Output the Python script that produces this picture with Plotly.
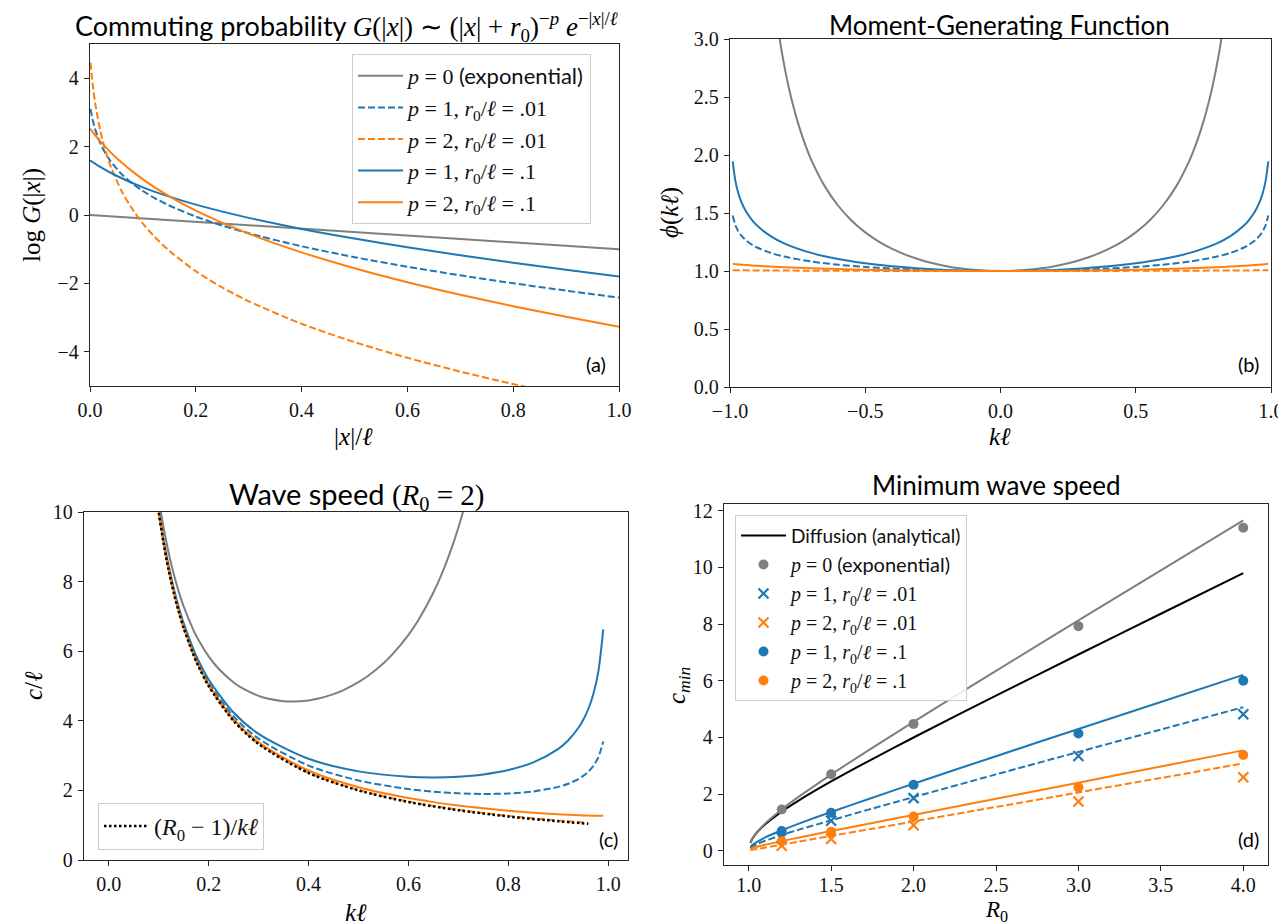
import plotly.graph_objects as go

# ---------------- data ----------------
# panel (a): log G(|x|) vs |x|/l
A_X_EXP = [0.0, 1.0]
A_EXP = [0.0, -1.0]
A_X_R001 = [0.001, 0.005, 0.01, 0.02, 0.03, 0.04, 0.06, 0.08, 0.1, 0.12, 0.15, 0.2, 0.25, 0.3, 0.4, 0.5, 0.6, 0.7, 0.8, 0.9, 1.0]
A_P1_R001 = [3.10, 2.789, 2.496, 2.081, 1.783, 1.55, 1.193, 0.922, 0.701, 0.514, 0.277, -0.045, -0.309, -0.535, -0.914, -1.233, -1.512, -1.764, -1.995, -2.212, -2.416]
A_P2_R001 = [4.455, 3.831, 3.25, 2.429, 1.844, 1.387, 0.694, 0.172, -0.25, -0.604, -1.049, -1.643, -2.12, -2.522, -3.181, -3.717, -4.175, -4.579, -4.943, -5.275, -5.584]
A_X_R01 = [0.0, 0.02, 0.05, 0.1, 0.15, 0.2, 0.3, 0.4, 0.5, 0.6, 0.7, 0.8, 0.9, 1.0]
A_P1_R01 = [1.602, 1.40, 1.147, 0.809, 0.536, 0.304, -0.084, -0.407, -0.689, -0.944, -1.177, -1.395, -1.60, -1.796]
A_P2_R01 = [2.527, 2.143, 1.666, 1.041, 0.545, 0.13, -0.545, -1.092, -1.556, -1.965, -2.332, -2.667, -2.978, -3.269]

# panel (b): moment-generating function phi(k l)
B_K_EXP = [-0.82, -0.81, -0.8, -0.79, -0.78, -0.77, -0.75, -0.72, -0.7, -0.65, -0.6, -0.55, -0.5, -0.45, -0.4, -0.35,
           -0.3, -0.25, -0.2, -0.15, -0.1, 0.0, 0.1, 0.15, 0.2, 0.25, 0.3, 0.35, 0.4, 0.45, 0.5, 0.55, 0.6, 0.65,
           0.7, 0.72, 0.75, 0.77, 0.78, 0.79, 0.8, 0.81, 0.82]
B_EXP = [3.0525, 2.9078, 2.7778, 2.6603, 2.5536, 2.4564, 2.2857, 2.0764, 1.9608, 1.7316, 1.5625, 1.4337, 1.3333,
         1.2539, 1.1905, 1.1396, 1.0989, 1.0667, 1.0417, 1.0230, 1.0101, 1.0, 1.0101, 1.0230, 1.0417, 1.0667,
         1.0989, 1.1396, 1.1905, 1.2539, 1.3333, 1.4337, 1.5625, 1.7316, 1.9608, 2.0764, 2.2857, 2.4564, 2.5536,
         2.6603, 2.7778, 2.9078, 3.0525]
B_K = [-0.99, -0.98, -0.97, -0.96, -0.95, -0.94, -0.92, -0.9, -0.85, -0.8, -0.7, -0.6, -0.5, -0.4, -0.3, -0.2, -0.1, 0.0,
       0.1, 0.2, 0.3, 0.4, 0.5, 0.6, 0.7, 0.8, 0.85, 0.9, 0.92, 0.94, 0.95, 0.96, 0.97, 0.98, 0.99]
B_P1_R001 = [1.4786, 1.3943, 1.3453, 1.3107, 1.2840, 1.2623, 1.2284, 1.2024, 1.1561, 1.1244, 1.0819, 1.0543, 1.0350, 1.0212, 1.0115, 1.0050, 1.0012, 1.0,
             1.0012, 1.0050, 1.0115, 1.0212, 1.0350, 1.0543, 1.0819, 1.1244, 1.1561, 1.2024, 1.2284, 1.2623, 1.2840, 1.3107, 1.3453, 1.3943, 1.4786]
B_P2_R001 = [1.0065, 1.0063, 1.0061, 1.0059, 1.0057, 1.0055, 1.0051, 1.0048, 1.0042, 1.0036, 1.0026, 1.0019, 1.0013, 1.0008, 1.0004, 1.0002, 1.0000, 1.0,
             1.0000, 1.0002, 1.0004, 1.0008, 1.0013, 1.0019, 1.0026, 1.0036, 1.0042, 1.0048, 1.0051, 1.0055, 1.0057, 1.0059, 1.0061, 1.0063, 1.0065]
B_P1_R01 = [1.9445, 1.7748, 1.6764, 1.6071, 1.5539, 1.5107, 1.4433, 1.3918, 1.3007, 1.2386, 1.1562, 1.1030, 1.0662, 1.0400, 1.0216, 1.0093, 1.0023, 1.0,
            1.0023, 1.0093, 1.0216, 1.0400, 1.0662, 1.1030, 1.1562, 1.2386, 1.3007, 1.3918, 1.4433, 1.5107, 1.5539, 1.6071, 1.6764, 1.7748, 1.9445]
B_P2_R01 = [1.0618, 1.0592, 1.0569, 1.0549, 1.0529, 1.0513, 1.0480, 1.0448, 1.0382, 1.0327, 1.0237, 1.0167, 1.0113, 1.0070, 1.0039, 1.0017, 1.0004, 1.0,
            1.0004, 1.0017, 1.0039, 1.0070, 1.0113, 1.0167, 1.0237, 1.0327, 1.0382, 1.0448, 1.0480, 1.0513, 1.0529, 1.0549, 1.0569, 1.0592, 1.0618]

# panel (c): wave speed c/l vs k l  (R0 = 2)
C_K_EXP = [0.09, 0.1, 0.11, 0.12, 0.13, 0.14, 0.15, 0.17, 0.18, 0.2, 0.22, 0.25, 0.27, 0.3, 0.32, 0.35, 0.37,
           0.4, 0.42, 0.45, 0.47, 0.5, 0.52, 0.55, 0.57, 0.6, 0.62, 0.65, 0.67, 0.69, 0.7, 0.71, 0.72]
C_EXP = [11.475, 10.406, 9.539, 8.824, 8.226, 7.720, 7.287, 6.593, 6.312, 5.851, 5.494, 5.102, 4.914, 4.717, 4.632,
         4.564, 4.554, 4.586, 4.639, 4.766, 4.883, 5.111, 5.302, 5.656, 5.944, 6.471, 6.899, 7.688, 8.336, 9.111,
         9.556, 10.046, 10.59]
C_K = [0.09, 0.1, 0.11, 0.12, 0.13, 0.14, 0.15, 0.17, 0.18, 0.2, 0.25, 0.3, 0.4, 0.5, 0.6, 0.65, 0.7, 0.75, 0.8,
       0.85, 0.9, 0.92, 0.94, 0.95, 0.96, 0.97, 0.98, 0.99]
C_P1_R001 = [11.154, 10.049, 9.145, 8.392, 7.756, 7.211, 6.740, 5.966, 5.644, 5.099, 4.126, 3.487, 2.714, 2.285,
             2.038, 1.963, 1.916, 1.897, 1.911, 1.969, 2.102, 2.191, 2.327, 2.418, 2.537, 2.701, 2.947, 3.407]
C_P1_R01 = [11.194, 10.092, 9.192, 8.446, 7.812, 7.272, 6.806, 6.040, 5.722, 5.188, 4.238, 3.624, 2.908, 2.547,
            2.389, 2.370, 2.391, 2.458, 2.585, 2.804, 3.194, 3.441, 3.792, 4.031, 4.339, 4.763, 5.408, 6.628]
C_P2_R01 = [11.126, 10.017, 9.110, 8.354, 7.714, 7.167, 6.692, 5.911, 5.586, 5.034, 4.043, 3.385, 2.571, 2.091,
            1.779, 1.663, 1.566, 1.485, 1.416, 1.360, 1.315, 1.301, 1.288, 1.281, 1.277, 1.272, 1.269, 1.268]
C_K_R001B = [0.09, 0.1, 0.11, 0.12, 0.13, 0.14, 0.15, 0.17, 0.18, 0.2, 0.25, 0.3, 0.4, 0.5, 0.6, 0.7, 0.8, 0.9, 0.96]
C_P2_R001 = [11.113, 10.002, 9.092, 8.336, 7.694, 7.144, 6.670, 5.884, 5.558, 5.004, 4.003, 3.339, 2.508, 2.010,
             1.679, 1.444, 1.268, 1.133, 1.066]
C_K_REF = [0.09, 0.1, 0.11, 0.12, 0.13, 0.14, 0.15, 0.17, 0.18, 0.2, 0.25, 0.3, 0.4, 0.5, 0.6, 0.7, 0.8, 0.9, 0.96]
C_REF = [11.111, 10.0, 9.091, 8.333, 7.692, 7.143, 6.667, 5.882, 5.556, 5.0, 4.0, 3.333, 2.5, 2.0, 1.667, 1.429,
         1.25, 1.111, 1.042]

# panel (d): minimum wave speed vs R0
D_R_LINE = [1.01, 1.02, 1.05, 1.1, 1.2, 1.3, 1.5, 1.75, 2.0, 2.5, 3.0, 3.5, 4.0]
D_DIFF = [0.284, 0.404, 0.648, 0.938, 1.386, 1.766, 2.449, 3.240, 4.0, 5.477, 6.928, 8.367, 9.798]
D_L_EXP = [0.285, 0.406, 0.659, 0.968, 1.461, 1.894, 2.692, 3.636, 4.553, 6.352, 8.13, 9.896, 11.66]
D_L_P1_R001 = [0.100, 0.145, 0.237, 0.356, 0.555, 0.739, 1.078, 1.492, 1.896, 2.698, 3.49, 4.28, 5.07]
D_L_P2_R001 = [0.0234, 0.0337, 0.0644, 0.1155, 0.218, 0.320, 0.525, 0.781, 1.037, 1.548, 2.060, 2.572, 3.083]
D_L_P1_R01 = [0.137, 0.196, 0.319, 0.473, 0.725, 0.952, 1.372, 1.875, 2.368, 3.34, 4.30, 5.25, 6.21]
D_L_P2_R01 = [0.0595, 0.0855, 0.142, 0.215, 0.343, 0.464, 0.698, 0.983, 1.268, 1.837, 2.406, 2.976, 3.545]
D_R_PTS = [1.2, 1.5, 2.0, 3.0, 4.0]
D_M_EXP = [1.46, 2.7, 4.48, 7.93, 11.4]
D_M_P1_R001 = [0.45, 1.06, 1.86, 3.35, 4.82]
D_M_P2_R001 = [0.18, 0.42, 0.90, 1.74, 2.6]
D_M_P1_R01 = [0.70, 1.34, 2.33, 4.14, 6.0]
D_M_P2_R01 = [0.34, 0.67, 1.21, 2.24, 3.38]

# tick labels
A_XTICKS = [0.0, 0.2, 0.4, 0.6, 0.8, 1.0]
A_YTICKS = [-4, -2, 0, 2, 4]
B_XTICKS = [-1.0, -0.5, 0.0, 0.5, 1.0]
B_YTICKS = [0.0, 0.5, 1.0, 1.5, 2.0, 2.5, 3.0]
C_XTICKS = [0.0, 0.2, 0.4, 0.6, 0.8, 1.0]
C_YTICKS = [0, 2, 4, 6, 8, 10]
D_XTICKS = [1.0, 1.5, 2.0, 2.5, 3.0, 3.5, 4.0]
D_YTICKS = [0, 2, 4, 6, 8, 10, 12]

# ---------------- styling ----------------
W, H = 1286, 924
GRAY, BLUE, ORANGE, BLACK = "#7f7f7f", "#1f77b4", "#ff7f0e", "#000000"
SERIF = "Liberation Serif"
SANS = "Lato"
DASH = "7px,3px"
LW = 2


def px(x):
    return x / W


def py(y):
    return 1 - y / H


BOX = {"a": (82, 611, 36, 378), "b": (722, 1263, 31, 379),
       "c": (76, 620, 504, 852), "d": (716, 1260, 496, 857)}
AX = {"a": ("x", "y"), "b": ("x2", "y2"), "c": ("x3", "y3"), "d": ("x4", "y4")}

SANS_SPAN = "<span style='font-family:Lato'>%s</span>"
P0 = "<i>p</i> = 0 " + SANS_SPAN % "(exponential)"
P1_001 = "<i>p</i> = 1, <i>r</i><sub>0</sub>/<i>ℓ</i> = .01"
P2_001 = "<i>p</i> = 2, <i>r</i><sub>0</sub>/<i>ℓ</i> = .01"
P1_01 = "<i>p</i> = 1, <i>r</i><sub>0</sub>/<i>ℓ</i> = .1"
P2_01 = "<i>p</i> = 2, <i>r</i><sub>0</sub>/<i>ℓ</i> = .1"

fig = go.Figure()


def line(panel, x, y, color, dash="solid", name=None, legend=None, group=None, width=LW):
    xa, ya = AX[panel]
    fig.add_trace(go.Scatter(
        x=x, y=y, xaxis=xa, yaxis=ya, mode="lines",
        line=dict(color=color, width=width, dash=dash, shape="spline", smoothing=0.8),
        name=name, showlegend=name is not None, legend=legend,
        legendgroup=group, hoverinfo="skip"))


def marks(panel, x, y, color, symbol, name, legend, group):
    xa, ya = AX[panel]
    if symbol == "circle":
        mk = dict(symbol="circle", size=10, color=color, line=dict(width=0))
    else:
        mk = dict(symbol="x-thin-open", size=10, color=color, line=dict(width=2.2, color=color))
    fig.add_trace(go.Scatter(x=x, y=y, xaxis=xa, yaxis=ya, mode="markers", marker=mk,
                             name=name, legend=legend, legendgroup=group,
                             cliponaxis=False, hoverinfo="skip"))


# panel (a)
line("a", A_X_EXP, A_EXP, GRAY, name=P0, legend="legend", group="a1")
line("a", A_X_R001, A_P1_R001, BLUE, DASH, name=P1_001, legend="legend", group="a2")
line("a", A_X_R001, A_P2_R001, ORANGE, DASH, name=P2_001, legend="legend", group="a3")
line("a", A_X_R01, A_P1_R01, BLUE, name=P1_01, legend="legend", group="a4")
line("a", A_X_R01, A_P2_R01, ORANGE, name=P2_01, legend="legend", group="a5")

# panel (b)
line("b", B_K_EXP, B_EXP, GRAY)
line("b", B_K, B_P1_R001, BLUE, DASH)
line("b", B_K, B_P2_R001, ORANGE, DASH)
line("b", B_K, B_P1_R01, BLUE)
line("b", B_K, B_P2_R01, ORANGE)

# panel (c)
line("c", C_K_EXP, C_EXP, GRAY)
line("c", C_K, C_P1_R001, BLUE, DASH)
line("c", C_K_R001B, C_P2_R001, ORANGE, DASH)
line("c", C_K, C_P1_R01, BLUE)
line("c", C_K, C_P2_R01, ORANGE)
line("c", C_K_REF, C_REF, BLACK, "2.5px,2.5px",
     name="(<i>R</i><sub>0</sub> − 1)/<i>kℓ</i>", legend="legend2", group="c1", width=2.5)

# panel (d)
line("d", D_R_LINE, D_DIFF, BLACK,
     name="<span style='font-family:Lato;font-size:19px'>Diffusion (analytical)</span>",
     legend="legend3", group="d0")
line("d", D_R_LINE, D_L_EXP, GRAY)
line("d", D_R_LINE, D_L_P1_R001, BLUE, DASH)
line("d", D_R_LINE, D_L_P2_R001, ORANGE, DASH)
line("d", D_R_LINE, D_L_P1_R01, BLUE)
line("d", D_R_LINE, D_L_P2_R01, ORANGE)
marks("d", D_R_PTS, D_M_EXP, GRAY, "circle", P0, "legend3", "d1")
marks("d", D_R_PTS, D_M_P1_R001, BLUE, "x", P1_001, "legend3", "d2")
marks("d", D_R_PTS, D_M_P2_R001, ORANGE, "x", P2_001, "legend3", "d3")
marks("d", D_R_PTS, D_M_P1_R01, BLUE, "circle", P1_01, "legend3", "d4")
marks("d", D_R_PTS, D_M_P2_R01, ORANGE, "circle", P2_01, "legend3", "d5")

# ---------------- axes ----------------
AXCOL = "#262626"


def axis(panel, which, rng, ticks, fmt, standoff=1):
    x0, x1, y0, y1 = BOX[panel]
    dom = [px(x0), px(x1)] if which == "x" else [py(y1), py(y0)]
    other = AX[panel][1] if which == "x" else AX[panel][0]
    return dict(domain=dom, range=rng, anchor=other, tickvals=ticks, tickformat=fmt,
                automargin=False, showline=True, mirror=True, linecolor=AXCOL, linewidth=1.3,
                ticks="outside", ticklen=5, tickwidth=1.2, tickcolor=AXCOL,
                showgrid=False, zeroline=False, ticklabelstandoff=standoff,
                tickfont=dict(family=SERIF, size=20, color="#111"))


layout = dict(
    template="none",
    width=W, height=H, margin=dict(l=0, r=0, t=0, b=0, autoexpand=False),
    paper_bgcolor="white", plot_bgcolor="white", showlegend=True,
    xaxis=axis("a", "x", [0, 1], A_XTICKS, ".1f"),
    yaxis=axis("a", "y", [-5, 5], A_YTICKS, "d"),
    xaxis2=axis("b", "x", [-1, 1], B_XTICKS, ".1f"),
    yaxis2=axis("b", "y", [0, 3], B_YTICKS, ".1f"),
    xaxis3=axis("c", "x", [-0.0495, 1.0395], C_XTICKS, ".1f"),
    yaxis3=axis("c", "y", [0, 10], C_YTICKS, "d"),
    xaxis4=axis("d", "x", [0.85, 4.15], D_XTICKS, ".1f", standoff=-3),
    yaxis4=axis("d", "y", [-0.5, 12.24], D_YTICKS, "d"),
)

LEG = dict(bgcolor="rgba(255,255,255,0.85)", bordercolor="#cccccc", borderwidth=1,
           font=dict(family=SERIF, size=22, color="#111"), xanchor="left",
           itemwidth=45, tracegroupgap=3, traceorder="normal")
layout["legend"] = dict(LEG, x=px(344), y=py(46), yanchor="top")
layout["legend2"] = dict(LEG, x=px(90), y=py(842), yanchor="bottom",
                         font=dict(family=SERIF, size=24, color="#111"))
layout["legend3"] = dict(LEG, x=px(727), y=py(507), yanchor="top", tracegroupgap=2,
                         font=dict(family=SERIF, size=20, color="#111"))
fig.update_layout(**layout)

# ---------------- text annotations ----------------
ann = []


def text(x, y, s, size=20, family=SANS, angle=0, xanchor="center", yanchor="middle"):
    ann.append(dict(x=px(x), y=py(y), xref="paper", yref="paper", text=s, showarrow=False,
                    font=dict(family=family, size=size, color="#000"), textangle=angle,
                    xanchor=xanchor, yanchor=yanchor, borderpad=0))


M = "font-family:Liberation Serif;font-size:27px"
text(338, 19, "Commuting probability <span style='%s'><i>G</i>(|<i>x</i>|) ∼ (|<i>x</i>| + <i>r</i><sub>0</sub>)"
     "<sup>−<i>p</i></sup> <i>e</i><sup>−|<i>x</i>|/<i>ℓ</i></sup></span>" % M, size=27)
text(992, 0, "Moment-Generating Function", size=26, yanchor="top")
text(348, 487, "Wave speed <span style='font-family:Liberation Serif;font-size:29px'>"
     "(<i>R</i><sub>0</sub> = 2)</span>", size=29)
text(988, 477, "Minimum wave speed", size=26)

text(346, 428, "|<i>x</i>|/<i>ℓ</i>", size=25, family=SERIF)
text(24, 207, "log <i>G</i>(|<i>x</i>|)", size=25, family=SERIF, angle=-90)
text(992, 428, "<i>kℓ</i>", size=25, family=SERIF)
text(662, 205, "<i>ϕ</i>(<i>kℓ</i>)", size=25, family=SERIF, angle=-90)
text(348, 904, "<i>kℓ</i>", size=25, family=SERIF)
text(25, 678, "<i>c</i>/<i>ℓ</i>", size=25, family=SERIF, angle=-90)
text(988, 918, "<i>R</i><sub>0</sub>", size=23, family=SERIF, yanchor="bottom")
text(670, 677, "<i>c<sub>min</sub></i>", size=25, family=SERIF, angle=-90)

text(588, 356, "(a)", size=20)
text(1240, 356, "(b)", size=20)
text(600, 831, "(c)", size=20)
text(1240, 831, "(d)", size=20)

fig.update_layout(annotations=ann)
fig.write_html("out.html")
